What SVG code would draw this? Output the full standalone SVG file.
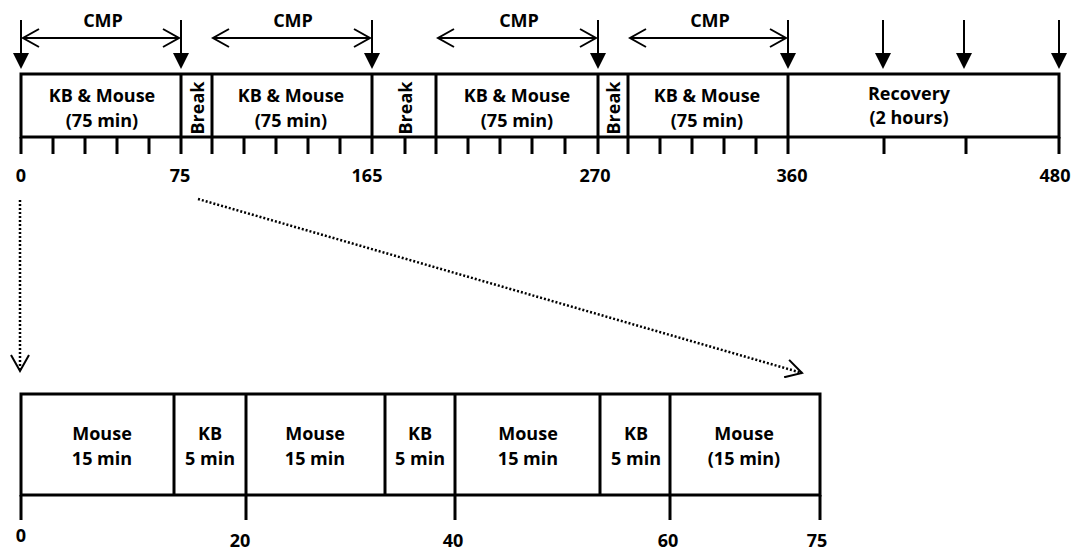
<svg xmlns="http://www.w3.org/2000/svg" width="1072" height="552" viewBox="0 0 1072 552">
<defs>
<style>
.t{font-family:"Open Sans","Liberation Sans",sans-serif;font-weight:bold;font-size:18px;fill:#000;text-anchor:middle}
.n{font-family:"Open Sans","Liberation Sans",sans-serif;font-weight:bold;font-size:18px;fill:#000;text-anchor:middle}
.box{fill:#fff;stroke:#000;stroke-width:3}
.ln{stroke:#000;stroke-width:3;fill:none}
.ar{stroke:#000;stroke-width:2;fill:none}
.head{fill:#000}
.dot{stroke:#000;stroke-width:2.5;fill:none;stroke-dasharray:2 2}
</style>
<marker id="open" viewBox="0 0 20 20" refX="18" refY="10" markerWidth="20" markerHeight="20" markerUnits="userSpaceOnUse" orient="auto-start-reverse">
<path d="M2,1 L18,10 L2,19" fill="none" stroke="#000" stroke-width="2"/>
</marker>
</defs>

<g id="top-timeline">
<rect class="box" x="21" y="74" width="1038" height="63"/>
<g class="ln">
<line x1="181" y1="74" x2="181" y2="137"/>
<line x1="212" y1="74" x2="212" y2="137"/>
<line x1="372" y1="74" x2="372" y2="137"/>
<line x1="436" y1="74" x2="436" y2="137"/>
<line x1="598" y1="74" x2="598" y2="137"/>
<line x1="628" y1="74" x2="628" y2="137"/>
<line x1="788" y1="74" x2="788" y2="137"/>
</g>
<g class="ln">
<path d="M21,137V154M53,137V154M85,137V154M117,137V154M149,137V154M181,137V154"/>
<path d="M212,137V154M244,137V154M276,137V154M308,137V154M340,137V154M372,137V154"/>
<path d="M405,137V154M436,137V154M468,137V154M500,137V154M532,137V154M565,137V154M598,137V154"/>
<path d="M628,137V154M660,137V154M692,137V154M724,137V154M756,137V154M788,137V154"/>
<path d="M884,137V154M966,137V154M1059,137V154"/>
</g>
</g>

<g id="seg1"><text class="t" x="102" y="102">KB &amp; Mouse</text><text class="t" x="102" y="127">(75 min)</text></g>
<g id="break1"><text class="t" transform="translate(204,108) rotate(-90)">Break</text></g>
<g id="seg2"><text class="t" x="291" y="102">KB &amp; Mouse</text><text class="t" x="291" y="127">(75 min)</text></g>
<g id="break2"><text class="t" transform="translate(412,108) rotate(-90)">Break</text></g>
<g id="seg3"><text class="t" x="517" y="102">KB &amp; Mouse</text><text class="t" x="517" y="127">(75 min)</text></g>
<g id="break3"><text class="t" transform="translate(620,108) rotate(-90)">Break</text></g>
<g id="seg4"><text class="t" x="707" y="102">KB &amp; Mouse</text><text class="t" x="707" y="127">(75 min)</text></g>
<g id="recovery"><text class="t" x="909" y="100">Recovery</text><text class="t" x="909" y="124">(2 hours)</text></g>

<g id="top-numbers">
<text class="n" x="21" y="182">0</text>
<text class="n" x="180" y="182">75</text>
<text class="n" x="367" y="182">165</text>
<text class="n" x="595" y="182">270</text>
<text class="n" x="792" y="182">360</text>
<text class="n" x="1055" y="182">480</text>
</g>

<g id="cmp-labels">
<text class="t" x="103" y="27">CMP</text>
<text class="t" x="293" y="27">CMP</text>
<text class="t" x="519" y="27">CMP</text>
<text class="t" x="710" y="27">CMP</text>
</g>

<g id="connectors">
<g class="ar">
<path d="M21,20V55M181,20V55M372,20V55M598,20V55M788,20V55M883,20V55M964,20V55M1059,20V55"/>
</g>
<g class="head">
<polygon points="13,53 29,53 21,69"/>
<polygon points="173,53 189,53 181,69"/>
<polygon points="364,53 380,53 372,69"/>
<polygon points="590,53 606,53 598,69"/>
<polygon points="780,53 796,53 788,69"/>
<polygon points="875,53 891,53 883,69"/>
<polygon points="956,53 972,53 964,69"/>
<polygon points="1051,53 1067,53 1059,69"/>
</g>
<g class="ar">
<line x1="23" y1="38" x2="179" y2="38" marker-start="url(#open)" marker-end="url(#open)"/>
<line x1="213" y1="38" x2="370" y2="38" marker-start="url(#open)" marker-end="url(#open)"/>
<line x1="438" y1="38" x2="596" y2="38" marker-start="url(#open)" marker-end="url(#open)"/>
<line x1="630" y1="38" x2="786" y2="38" marker-start="url(#open)" marker-end="url(#open)"/>
</g>
<line class="dot" x1="20" y1="200" x2="20" y2="371" marker-end="url(#open)"/>
<line class="dot" x1="198" y1="199" x2="802" y2="373" marker-end="url(#open)"/>
</g>

<g id="bottom-timeline">
<rect class="box" x="21" y="394" width="799" height="101"/>
<g class="ln">
<line x1="174" y1="394" x2="174" y2="495"/>
<line x1="246" y1="394" x2="246" y2="495"/>
<line x1="385" y1="394" x2="385" y2="495"/>
<line x1="455" y1="394" x2="455" y2="495"/>
<line x1="600" y1="394" x2="600" y2="495"/>
<line x1="670" y1="394" x2="670" y2="495"/>
<path d="M21,495V520M246,495V520M455,495V520M670,495V520M820,495V520"/>
</g>
</g>

<g id="b1"><text class="t" x="102" y="440">Mouse</text><text class="t" x="102" y="465">15 min</text></g>
<g id="b2"><text class="t" x="210" y="440">KB</text><text class="t" x="210" y="465">5 min</text></g>
<g id="b3"><text class="t" x="315" y="440">Mouse</text><text class="t" x="315" y="465">15 min</text></g>
<g id="b4"><text class="t" x="420" y="440">KB</text><text class="t" x="420" y="465">5 min</text></g>
<g id="b5"><text class="t" x="528" y="440">Mouse</text><text class="t" x="528" y="465">15 min</text></g>
<g id="b6"><text class="t" x="636" y="440">KB</text><text class="t" x="636" y="465">5 min</text></g>
<g id="b7"><text class="t" x="744" y="440">Mouse</text><text class="t" x="744" y="465">(15 min)</text></g>

<g id="bottom-numbers">
<text class="n" x="21" y="542">0</text>
<text class="n" x="240" y="547">20</text>
<text class="n" x="453" y="547">40</text>
<text class="n" x="668" y="547">60</text>
<text class="n" x="817" y="547">75</text>
</g>
</svg>
